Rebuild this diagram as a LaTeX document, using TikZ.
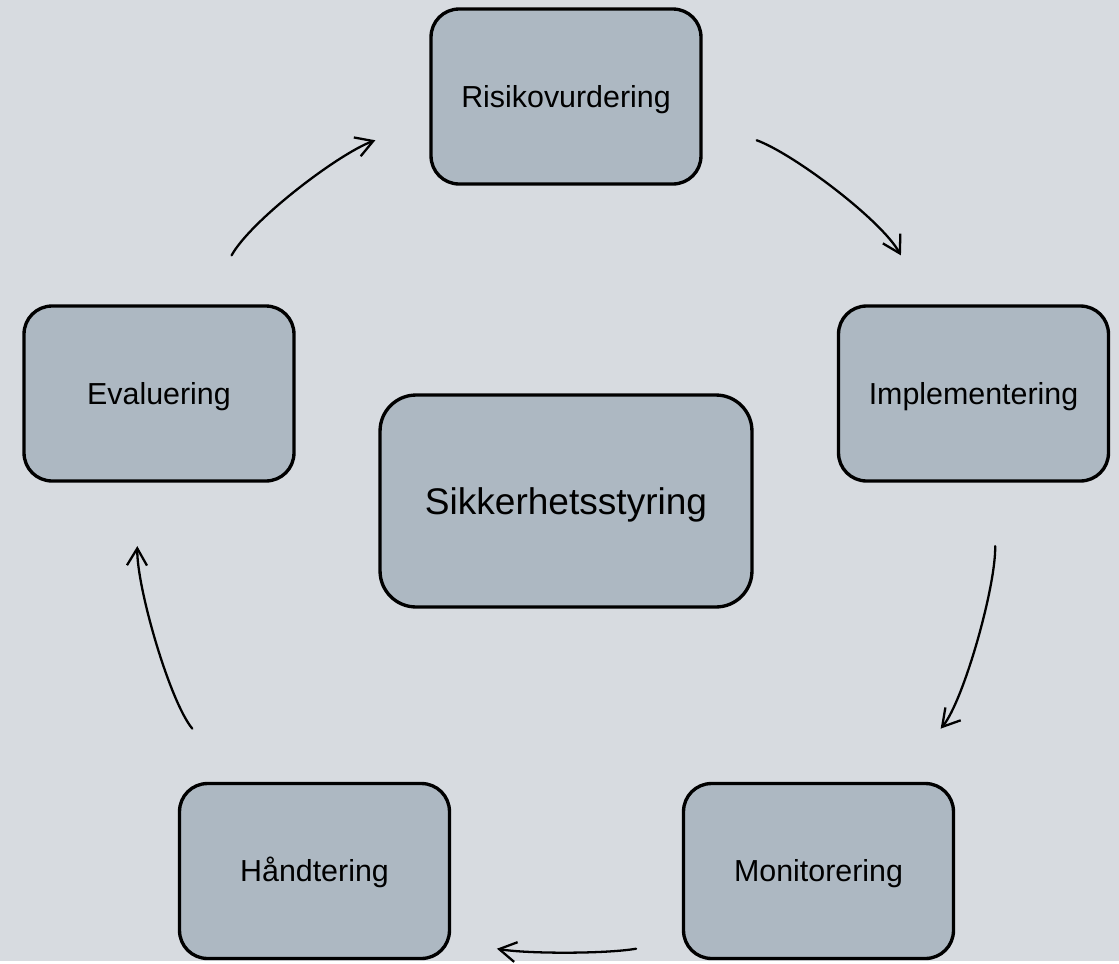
\documentclass[tikz,border=0pt]{standalone}
\usepackage{fontspec}
\setmainfont{Liberation Sans}
\usetikzlibrary{arrows.meta}
\definecolor{bgcol}{RGB}{215,219,224}
\definecolor{boxcol}{RGB}{173,184,194}

\begin{document}
\begin{tikzpicture}[x=0.02cm,y=-0.02cm,line cap=round,line join=round,>={Straight Barb[length=0.34cm,width=0.4cm]},
    stepbox/.style={draw=black,line width=1.9pt,fill=boxcol,rounded corners=0.56cm,minimum width=5.4cm,minimum height=3.5cm,text height=12.4pt,text depth=0pt,font=\fontsize{17.3}{20}\selectfont},
    mainbox/.style={stepbox,rounded corners=0.72cm,minimum width=7.44cm,minimum height=4.24cm,text height=15.1pt,font=\fontsize{21.1}{25}\selectfont},
    flow/.style={->,line width=1.3pt,looseness=0.85}]
        \fill[bgcol] (0,0) rectangle (1119,961);
        \node[stepbox] (risk) at (566,96.5) {Risikovurdering};
        \node[stepbox] (eval) at (159,393.5) {Evaluering};
        \node[stepbox] (impl) at (973.5,393.5) {Implementering};
        \node[stepbox] (hand) at (314.5,871) {Håndtering};
        \node[stepbox] (mon) at (818.5,871) {Monitorering};
        \node[mainbox] (sik) at (566,501) {Sikkerhetsstyring};
        \draw[flow,shorten <=1.12cm,shorten >=1.15cm] (eval.63) to[out=61,in=200] (risk.190);
        \draw[flow,shorten <=1.15cm,shorten >=1.12cm] (risk.350) to[out=-20,in=119] (impl.117);
        \draw[flow,shorten <=1.27cm,shorten >=1.39cm] (impl.283) to[out=-89,in=50] (mon.49);
        \draw[flow,shorten <=0.93cm,shorten >=0.93cm] (mon.207) to[out=190,in=-10] (hand.333);
        \draw[flow,shorten <=1.39cm,shorten >=1.27cm] (hand.131) to[out=130,in=269] (eval.257);
      \end{tikzpicture}
\end{document}
